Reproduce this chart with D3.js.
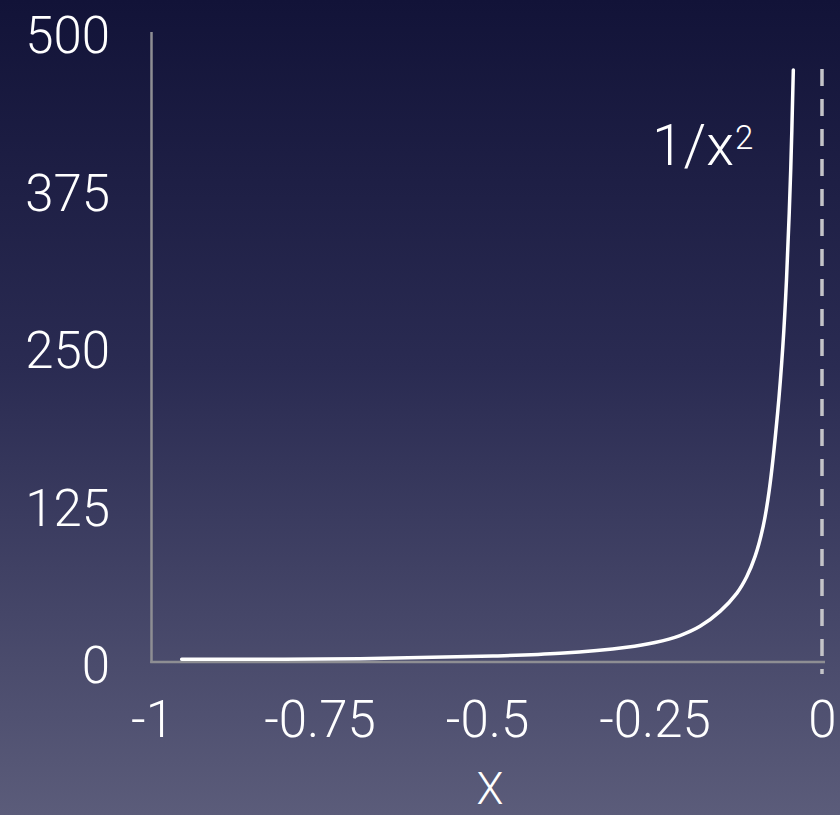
<!DOCTYPE html>
<html>
<head>
<meta charset="utf-8">
<script src="https://cdn.jsdelivr.net/npm/d3@7/dist/d3.min.js"></script>
<style>
  html, body { margin: 0; padding: 0; background: #2a2b4f; }
  svg { display: block; }
  text { font-family: "Helvetica Neue", Roboto, "Liberation Sans", sans-serif; font-weight: 300; fill: #ffffff; }
</style>
</head>
<body>
<svg id="chart" width="840" height="815"></svg>
<script>
// ---- data ----
const curveX = [-0.9557, -0.6896, -0.4910, -0.3910, -0.2915, -0.2493, -0.2119, -0.1821, -0.1522, -0.1273, -0.1124, -0.1000, -0.0879, -0.0787, -0.0663, -0.0585, -0.0530, -0.0467, -0.0428];
const curveY = [2.1, 2.6, 4.8, 6.9, 11.7, 15.5, 21.0, 28.3, 40.2, 54.5, 67.7, 83.6, 107.4, 136.5, 197.4, 250.2, 303.2, 390.5, 469.8];
const xTicks = [-1, -0.75, -0.5, -0.25, 0];
const xTickLabels = ["-1", "-0.75", "-0.5", "-0.25", "0"];
const yTicks = [0, 125, 250, 375, 500];
const yTickLabels = ["0", "125", "250", "375", "500"];
const asymptoteX = [0];
const xDomain = [-1, 0];
const yDomain = [0, 500];
const curveLabel = "1/x";
const curveLabelSup = "2";
const xAxisTitle = "X";

const svg = d3.select("#chart");
const W = 840, H = 815;

// background gradient
const defs = svg.append("defs");
const grad = defs.append("linearGradient").attr("id", "bg").attr("x1", 0).attr("y1", 0).attr("x2", 0).attr("y2", 1);
grad.append("stop").attr("offset", "0%").attr("stop-color", "#121338");
grad.append("stop").attr("offset", "45%").attr("stop-color", "#2a2b52");
grad.append("stop").attr("offset", "100%").attr("stop-color", "#5b5c7a");
svg.append("rect").attr("width", W).attr("height", H).attr("fill", "url(#bg)");

const x = d3.scaleLinear().domain(xDomain).range([152, 822]);
const y = d3.scaleLinear().domain(yDomain).range([662, 32]);

// axis lines
svg.append("line")
  .attr("x1", x(xDomain[0]) - 0.5).attr("x2", x(xDomain[0]) - 0.5)
  .attr("y1", y(yDomain[1])).attr("y2", y(yDomain[0]) + 1)
  .attr("stroke", "#8e8e93").attr("stroke-width", 2.5);
svg.append("line")
  .attr("x1", x(xDomain[0]) - 1.75).attr("x2", x(xDomain[1]) + 3)
  .attr("y1", y(0)).attr("y2", y(0))
  .attr("stroke", "#8e8e93").attr("stroke-width", 2.5);

// dashed asymptote
svg.selectAll("line.asym").data(asymptoteX).join("line")
  .attr("class", "asym")
  .attr("x1", d => x(d)).attr("x2", d => x(d))
  .attr("y1", 69).attr("y2", 674)
  .attr("stroke", "#c4c4c8").attr("stroke-width", 3.5)
  .attr("stroke-dasharray", "17,13");

// y axis labels
const yAxis = d3.axisLeft(y).tickValues(yTicks).tickSize(0).tickPadding(42)
  .tickFormat((d, i) => yTickLabels[i]);
const gy = svg.append("g").attr("transform", `translate(${x(xDomain[0])},0)`).call(yAxis);
gy.select(".domain").remove();
gy.selectAll("text").attr("font-size", 51).attr("dy", "0.41em")
  .attr("font-family", null).attr("fill", "#ffffff");

// x axis labels
const xAxis = d3.axisBottom(x).tickValues(xTicks).tickSize(0)
  .tickFormat((d, i) => xTickLabels[i]);
const gx = svg.append("g").attr("transform", `translate(0,${y(0)})`).call(xAxis);
gx.select(".domain").remove();
gx.selectAll("text").attr("font-size", 51).attr("y", 75).attr("dy", 0)
  .attr("font-family", null).attr("fill", "#ffffff");

// curve
const pts = curveX.map((d, i) => [d, curveY[i]]);
const line = d3.line().x(d => x(d[0])).y(d => y(d[1])).curve(d3.curveCatmullRom.alpha(0.5));
svg.append("path").datum(pts).attr("d", line)
  .attr("fill", "none").attr("stroke", "#ffffff").attr("stroke-width", 3.5)
  .attr("stroke-linecap", "round");

// curve label
const lab = svg.append("text").attr("x", 652).attr("y", 165).attr("font-size", 57);
lab.append("tspan").text(curveLabel);
lab.append("tspan").attr("font-size", 33).attr("dy", -16).attr("dx", 1).text(curveLabelSup);

// x axis title
svg.append("text").attr("x", 490).attr("y", 804).attr("text-anchor", "middle")
  .attr("font-size", 44).text(xAxisTitle);
</script>
</body>
</html>
